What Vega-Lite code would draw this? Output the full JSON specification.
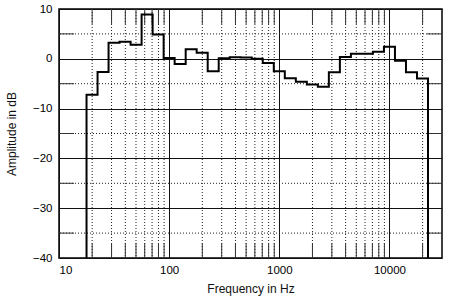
{
  "$schema": "https://vega.github.io/schema/vega-lite/v6.json",
  "width": 383,
  "height": 249,
  "autosize": "none",
  "padding": {"left": 59, "top": 9, "right": 8, "bottom": 42},
  "background": "white",
  "config": {
    "view": {"stroke": "black", "strokeWidth": 1.5},
    "font": "Liberation Sans",
    "axis": {"labelFont": "Liberation Sans", "titleFont": "Liberation Sans", "labelFontSize": 11.5, "titleFontSize": 12, "titleFontWeight": "normal", "labelColor": "black", "titleColor": "#111"}
  },
  "datasets": {
    "bands": [
      {"i": 0, "freq": 17.78, "dB": -40},
      {"i": 1, "freq": 17.78, "dB": -7.2},
      {"i": 2, "freq": 22.39, "dB": -2.65},
      {"i": 3, "freq": 28.18, "dB": 3.2},
      {"i": 4, "freq": 35.48, "dB": 3.4},
      {"i": 5, "freq": 44.67, "dB": 2.8},
      {"i": 6, "freq": 56.23, "dB": 8.9},
      {"i": 7, "freq": 70.79, "dB": 4.9},
      {"i": 8, "freq": 89.13, "dB": 0.15},
      {"i": 9, "freq": 112.2, "dB": -1.05},
      {"i": 10, "freq": 141.3, "dB": 1.9},
      {"i": 11, "freq": 177.8, "dB": 1.2},
      {"i": 12, "freq": 223.9, "dB": -2.5},
      {"i": 13, "freq": 281.8, "dB": 0.1},
      {"i": 14, "freq": 354.8, "dB": 0.3},
      {"i": 15, "freq": 446.7, "dB": 0.25},
      {"i": 16, "freq": 562.3, "dB": 0.0},
      {"i": 17, "freq": 707.9, "dB": -0.85},
      {"i": 18, "freq": 891.3, "dB": -2.5},
      {"i": 19, "freq": 1122, "dB": -3.9},
      {"i": 20, "freq": 1413, "dB": -4.6},
      {"i": 21, "freq": 1778, "dB": -5.15},
      {"i": 22, "freq": 2239, "dB": -5.6},
      {"i": 23, "freq": 2818, "dB": -2.7},
      {"i": 24, "freq": 3548, "dB": 0.35},
      {"i": 25, "freq": 4467, "dB": 1.0},
      {"i": 26, "freq": 5623, "dB": 1.0},
      {"i": 27, "freq": 7079, "dB": 1.4},
      {"i": 28, "freq": 8913, "dB": 2.4},
      {"i": 29, "freq": 11220, "dB": -0.4},
      {"i": 30, "freq": 14125, "dB": -2.7},
      {"i": 31, "freq": 17783, "dB": -3.95},
      {"i": 32, "freq": 22387, "dB": -40}
    ],
    "minorX": [
      {"f": 20}, {"f": 30}, {"f": 40}, {"f": 50}, {"f": 60}, {"f": 70}, {"f": 80}, {"f": 90},
      {"f": 200}, {"f": 300}, {"f": 400}, {"f": 500}, {"f": 600}, {"f": 700}, {"f": 800}, {"f": 900},
      {"f": 2000}, {"f": 3000}, {"f": 4000}, {"f": 5000}, {"f": 6000}, {"f": 7000}, {"f": 8000}, {"f": 9000},
      {"f": 20000}
    ],
    "minorY": [{"v": 5}, {"v": -5}, {"v": -15}, {"v": -25}, {"v": -35}]
  },
  "layer": [
    {
      "data": {"name": "minorX"},
      "mark": {"type": "rule", "color": "#222", "strokeWidth": 1, "strokeDash": [1, 2]},
      "encoding": {
        "x": {"field": "f", "type": "quantitative", "scale": {"type": "log", "domain": [10, 30000], "nice": false},
          "axis": {"values": [10, 100, 1000, 10000], "format": "d", "title": "Frequency in Hz", "grid": true, "gridColor": "#111", "gridOpacity": 1, "ticks": false, "domain": false, "labelPadding": 6, "titlePadding": 8}}
      }
    },
    {
      "data": {"name": "minorX"},
      "mark": {"type": "rule", "color": "#333", "strokeWidth": 1},
      "encoding": {
        "x": {"field": "f", "type": "quantitative"},
        "y": {"datum": -40},
        "y2": {"datum": -37}
      }
    },
    {
      "data": {"name": "minorX"},
      "mark": {"type": "rule", "color": "#333", "strokeWidth": 1},
      "encoding": {
        "x": {"field": "f", "type": "quantitative"},
        "y": {"datum": 10},
        "y2": {"datum": 7}
      }
    },
    {
      "data": {"name": "minorY"},
      "mark": {"type": "rule", "color": "#222", "strokeWidth": 1, "strokeDash": [1, 2]},
      "encoding": {
        "y": {"field": "v", "type": "quantitative", "scale": {"domain": [-40, 10], "nice": false},
          "axis": {"values": [-40, -30, -20, -10, 0, 10], "title": "Amplitude in dB", "grid": true, "gridColor": "#111", "gridOpacity": 1, "ticks": false, "domain": false, "labelPadding": 7, "titlePadding": 14}}
      }
    },
    {
      "data": {"name": "minorY"},
      "mark": {"type": "rule", "color": "#333", "strokeWidth": 1},
      "encoding": {
        "y": {"field": "v", "type": "quantitative"},
        "x": {"datum": 10},
        "x2": {"datum": 13.7}
      }
    },
    {
      "data": {"name": "minorY"},
      "mark": {"type": "rule", "color": "#333", "strokeWidth": 1},
      "encoding": {
        "y": {"field": "v", "type": "quantitative"},
        "x": {"datum": 21900},
        "x2": {"datum": 30000}
      }
    },
    {
      "data": {"name": "bands"},
      "mark": {"type": "line", "interpolate": "step-after", "color": "black", "strokeWidth": 2},
      "encoding": {
        "x": {"field": "freq", "type": "quantitative"},
        "y": {"field": "dB", "type": "quantitative"},
        "order": {"field": "i", "type": "quantitative"}
      }
    }
  ]
}
